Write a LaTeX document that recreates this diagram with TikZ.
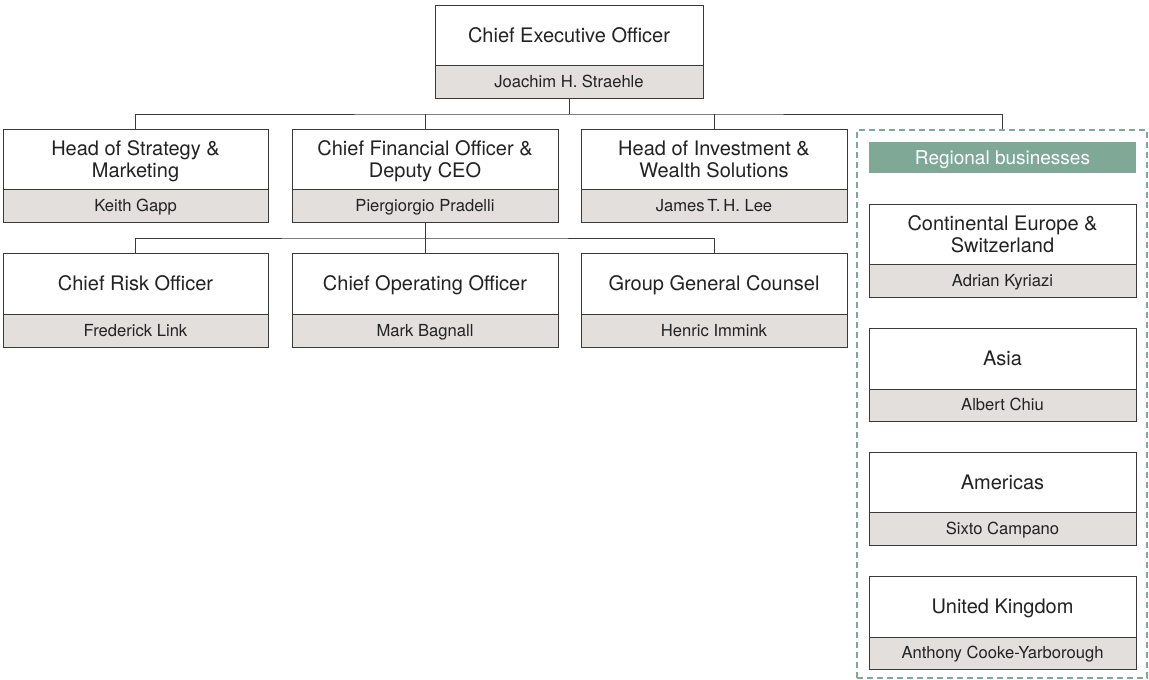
\documentclass[tikz,border=0pt]{standalone}
\usepackage{fontspec}
\setmainfont{TeX Gyre Heros}
\definecolor{edge}{HTML}{3A3A3A}
\definecolor{namefill}{HTML}{E2DFDC}
\definecolor{regreen}{HTML}{7FA897}
\definecolor{txt}{HTML}{222222}
\newcommand\orgbox[9]{%
  % #1 title style, #2 name, #3 cx, #4 width, #5 top, #6 split, #7 bottom, #8 title, #9 person
  \node[#1, minimum width=#4pt, minimum height={(#6-#5)*1pt}] (#2) at (#3,{(#5+#6)/2}) {#8};
  \node[namebox, minimum width=#4pt, minimum height={(#7-#6)*1pt}] (#2n) at (#3,{(#6+#7)/2}) {#9};
}
\begin{document}
\begin{tikzpicture}[x=1pt,y=-1pt,
  boxbase/.style={draw=edge, line width=0.9pt, inner sep=0pt, align=center, text=txt},
  titlebox/.style={boxbase, fill=white, font=\fontsize{20}{21.5}\selectfont, text depth=0pt},
  titleone/.style={titlebox, text height=14.4pt},
  namebox/.style={boxbase, fill=namefill, font=\fontsize{16.6}{18}\selectfont,
    text height=11.9pt, text depth=0pt},
  conn/.style={draw=edge, line width=0.9pt},
  regframe/.style={draw=regreen, line width=1.8pt, dash pattern=on 6pt off 4pt, inner sep=0pt},
  reghead/.style={fill=regreen, text=white, inner sep=0pt, text height=13.5pt, text depth=0pt,
    font=\fontsize{19}{21}\selectfont}]
\useasboundingbox (0,0) rectangle (1149,680);
% regional frame
\node[regframe, minimum width=290pt, minimum height=548pt] (reg) at (1002,404) {};
\node[reghead, minimum width=267pt, minimum height=31pt] (regh) at (1002.5,157.5) {Regional businesses};
% CEO
\orgbox{titleone}{ceo}{569}{268}{5}{65}{98}{Chief Executive Officer}{Joachim H. Straehle}
% row 1
\orgbox{titlebox}{sm}{135.5}{265}{129}{189}{222}{Head of Strategy \&\\Marketing}{Keith Gapp}
\orgbox{titlebox}{cfo}{425}{266}{129}{189}{222}{Chief Financial Officer \&\\Deputy CEO}{Piergiorgio Pradelli}
\orgbox{titlebox}{iws}{714}{266}{129}{189}{222}{Head of Investment \&\\Wealth Solutions}{James\,T.\,H. Lee}
% row 2
\orgbox{titleone}{cro}{135.5}{265}{253}{314}{347}{Chief Risk Officer}{Frederick Link}
\orgbox{titleone}{coo}{425}{266}{253}{314}{347}{Chief Operating Officer}{Mark Bagnall}
\orgbox{titleone}{ggc}{714}{266}{253}{314}{347}{Group General Counsel}{Henric Immink}
% regions
\orgbox{titlebox}{ce}{1002.5}{267}{204}{264}{297}{Continental Europe \&\\Switzerland}{Adrian Kyriazi}
\orgbox{titleone}{asia}{1002.5}{267}{328}{389}{421}{Asia}{Albert Chiu}
\orgbox{titleone}{am}{1002.5}{267}{452}{512}{545}{Americas}{Sixto Campano}
\orgbox{titleone}{uk}{1002.5}{267}{576}{637}{669}{United Kingdom}{Anthony Cooke-Yarborough}
% connectors
\coordinate (bus1) at (569,114);
\coordinate (bus2) at (425,238);
\draw[conn] (ceon.south) -- (bus1);
\draw[conn] (sm.north) |- (bus1) -| (reg.north);
\draw[conn] (cfo.north) -- (cfo.north |- bus1);
\draw[conn] (iws.north) -- (iws.north |- bus1);
\draw[conn] (cfon.south) -- (bus2);
\draw[conn] (cro.north) |- (bus2) -| (ggc.north);
\draw[conn] (coo.north) -- (coo.north |- bus2);
\end{tikzpicture}
\end{document}
